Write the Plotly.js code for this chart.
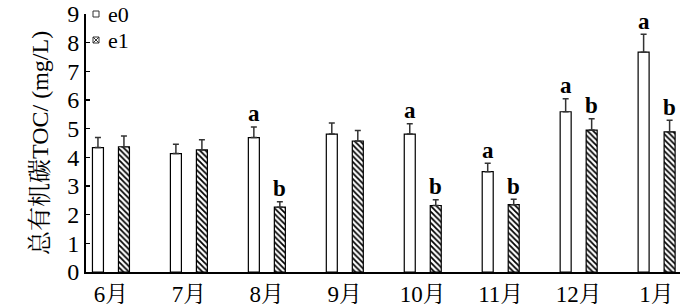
<!DOCTYPE html>
<html>
<head>
<meta charset="utf-8">
<script src="https://cdn.plot.ly/plotly-3.0.1.min.js"></script>
<style>html,body{margin:0;padding:0;background:#fff}#chart{width:700px;height:308px}</style>
</head>
<body>
<div id="chart"></div>
<script>
const months = ['6月','7月','8月','9月','10月','11月','12月','1月'];
const e0 = [4.34, 4.13, 4.69, 4.81, 4.81, 3.50, 5.59, 7.67];
const e0err = [0.35, 0.33, 0.37, 0.39, 0.36, 0.29, 0.45, 0.62];
const e1 = [4.37, 4.26, 2.26, 4.57, 2.32, 2.35, 4.95, 4.89];
const e1err = [0.37, 0.35, 0.19, 0.37, 0.20, 0.19, 0.40, 0.40];
const e0letters = ['', '', 'a', '', 'a', 'a', 'a', 'a'];
const e1letters = ['', '', 'b', '', 'b', 'b', 'b', 'b'];
const seriesNames = ['e0', 'e1'];
const yTicks = [0,1,2,3,4,5,6,7,8,9];

const serif = 'Liberation Serif, Noto Serif CJK SC, serif';

const traces = [
  {
    type: 'bar', x: months, y: e0, name: seriesNames[0], showlegend: false,
    marker: {color: '#ffffff', line: {color: '#000', width: 1.2}},
    error_y: {type: 'data', array: e0err, arrayminus: e0err.map(() => 0), symmetric: false, color: '#333', thickness: 1.5, width: 3}
  },
  {
    type: 'bar', x: months, y: e1, name: seriesNames[1], showlegend: false,
    marker: {color: '#ffffff', line: {color: '#000', width: 1.2},
      pattern: {shape: '\\', fgcolor: '#000', bgcolor: '#fff', size: 4, solidity: 0.45}},
    error_y: {type: 'data', array: e1err, arrayminus: e1err.map(() => 0), symmetric: false, color: '#333', thickness: 1.5, width: 3}
  }
];

const annotations = [];
months.forEach((m, i) => {
  if (e0letters[i]) annotations.push({x: m, y: e0[i] + e0err[i], xref: 'x', yref: 'y', text: e0letters[i],
    showarrow: false, xshift: -13, yshift: 13, yanchor: 'middle', font: {family: serif, size: 23, color: '#000', weight: 'bold'}});
  if (e1letters[i]) annotations.push({x: m, y: e1[i] + e1err[i], xref: 'x', yref: 'y', text: e1letters[i],
    showarrow: false, xshift: 13, yshift: 13, yanchor: 'middle', font: {family: serif, size: 23, color: '#000', weight: 'bold'}});
});

// legend (manual, small markers as in the reference)
seriesNames.forEach((n, i) => {
  annotations.push({xref: 'paper', yref: 'paper', x: 0, y: 1, xshift: 20, yshift: -26 * i,
    xanchor: 'left', yanchor: 'middle', text: n, showarrow: false,
    font: {family: serif, size: 22, color: '#000'}});
});
const shapes = [
  {type: 'rect', xref: 'paper', yref: 'paper', xsizemode: 'pixel', ysizemode: 'pixel',
   xanchor: 0, yanchor: 1, x0: 7, x1: 13, y0: -3, y1: 3, line: {color: '#333', width: 1}, fillcolor: '#fff'},
  {type: 'rect', xref: 'paper', yref: 'paper', xsizemode: 'pixel', ysizemode: 'pixel',
   xanchor: 0, yanchor: 1, x0: 7, x1: 13, y0: -29, y1: -23, line: {color: '#333', width: 1}, fillcolor: '#fff'},
  {type: 'path', xref: 'paper', yref: 'paper', xsizemode: 'pixel', ysizemode: 'pixel',
   xanchor: 0, yanchor: 1, path: 'M7,-29L13,-23M7,-23L13,-29', line: {color: '#333', width: 1}}
];

const layout = {
  width: 700, height: 308,
  margin: {l: 86, r: 20, t: 14, b: 36},
  paper_bgcolor: '#fff', plot_bgcolor: '#fff',
  barmode: 'group', bargap: 0.333, bargroupgap: 0.577,
  font: {family: serif, size: 22, color: '#000'},
  showlegend: false,
  xaxis: {
    type: 'category', range: [-0.32, 7.3], showgrid: false, zeroline: false,
    showline: true, linecolor: '#000', linewidth: 2, ticks: '',
    tickfont: {family: serif, size: 23, color: '#000'}
  },
  yaxis: {
    range: [0, 9], tickvals: yTicks, showgrid: false, zeroline: false,
    showline: true, linecolor: '#000', linewidth: 2,
    ticks: 'inside', ticklen: 4, tickwidth: 1.5, tickcolor: '#000',
    tickfont: {family: serif, size: 24, color: '#000'},
    title: {text: '总有机碳TOC/ (mg/L)', font: {family: serif, size: 24, color: '#000'}, standoff: 12}
  },
  annotations: annotations,
  shapes: shapes
};

Plotly.newPlot('chart', traces, layout, {displayModeBar: false, staticPlot: true});
</script>
</body>
</html>
